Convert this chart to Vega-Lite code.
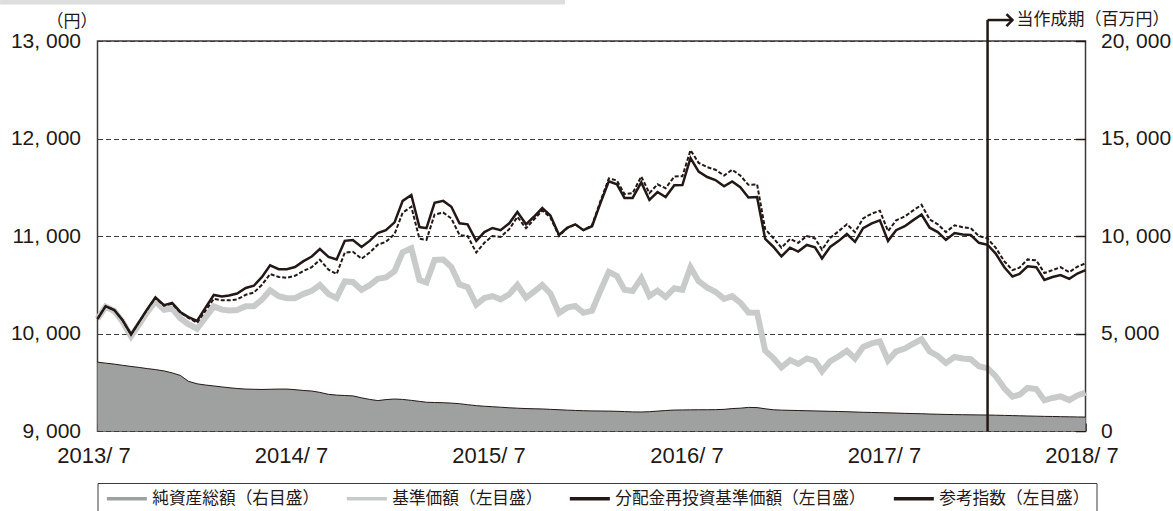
{
  "$schema": "https://vega.github.io/schema/vega-lite/v6.json",
  "width": 988,
  "height": 390,
  "autosize": {"type": "none"},
  "padding": {"left": 97.5, "top": 41, "right": 87.5, "bottom": 80},
  "background": "white",
  "config": {
    "view": {"stroke": "#3e3a39", "strokeWidth": 1.5},
    "axis": {"labelColor": "#231815", "labelFont": "Liberation Sans", "labelFontSize": 21, "titleColor": "#231815"}
  },
  "data": {"values": [
    {"d":"2013-07-01","reinv":10150,"nav":10150,"bench":10150,"assets":3530},
    {"d":"2013-07-16","reinv":10280,"nav":10275,"bench":10280,"assets":3480},
    {"d":"2013-08-01","reinv":10241,"nav":10231,"bench":10241,"assets":3430},
    {"d":"2013-08-16","reinv":10139,"nav":10124,"bench":10139,"assets":3370},
    {"d":"2013-09-01","reinv":9990,"nav":9970,"bench":9990,"assets":3310},
    {"d":"2013-09-16","reinv":10120,"nav":10095,"bench":10120,"assets":3260},
    {"d":"2013-10-01","reinv":10250,"nav":10219,"bench":10245,"assets":3200},
    {"d":"2013-10-16","reinv":10370,"nav":10331,"bench":10365,"assets":3150},
    {"d":"2013-11-01","reinv":10290,"nav":10242,"bench":10285,"assets":3080},
    {"d":"2013-11-16","reinv":10313,"nav":10256,"bench":10305,"assets":2980},
    {"d":"2013-12-01","reinv":10221,"nav":10157,"bench":10215,"assets":2850},
    {"d":"2013-12-16","reinv":10169,"nav":10096,"bench":10160,"assets":2550},
    {"d":"2014-01-01","reinv":10130,"nav":10049,"bench":10110,"assets":2420},
    {"d":"2014-01-16","reinv":10260,"nav":10160,"bench":10230,"assets":2360},
    {"d":"2014-02-01","reinv":10395,"nav":10278,"bench":10355,"assets":2310},
    {"d":"2014-02-16","reinv":10380,"nav":10245,"bench":10340,"assets":2260},
    {"d":"2014-03-01","reinv":10390,"nav":10237,"bench":10340,"assets":2220},
    {"d":"2014-03-16","reinv":10410,"nav":10240,"bench":10350,"assets":2180},
    {"d":"2014-04-01","reinv":10467,"nav":10279,"bench":10397,"assets":2150},
    {"d":"2014-04-16","reinv":10490,"nav":10280,"bench":10420,"assets":2140},
    {"d":"2014-05-01","reinv":10580,"nav":10347,"bench":10500,"assets":2130},
    {"d":"2014-05-16","reinv":10700,"nav":10443,"bench":10610,"assets":2140},
    {"d":"2014-06-01","reinv":10660,"nav":10383,"bench":10580,"assets":2150},
    {"d":"2014-06-16","reinv":10660,"nav":10362,"bench":10570,"assets":2150},
    {"d":"2014-07-01","reinv":10682,"nav":10362,"bench":10592,"assets":2120},
    {"d":"2014-07-16","reinv":10740,"nav":10404,"bench":10640,"assets":2080},
    {"d":"2014-08-01","reinv":10790,"nav":10437,"bench":10680,"assets":2050},
    {"d":"2014-08-16","reinv":10866,"nav":10497,"bench":10756,"assets":1980},
    {"d":"2014-09-01","reinv":10785,"nav":10404,"bench":10655,"assets":1880},
    {"d":"2014-09-16","reinv":10760,"nav":10365,"bench":10610,"assets":1840},
    {"d":"2014-10-01","reinv":10950,"nav":10534,"bench":10830,"assets":1820},
    {"d":"2014-10-16","reinv":10959,"nav":10529,"bench":10839,"assets":1800},
    {"d":"2014-11-01","reinv":10887,"nav":10448,"bench":10767,"assets":1700},
    {"d":"2014-11-16","reinv":10950,"nav":10496,"bench":10830,"assets":1620},
    {"d":"2014-12-01","reinv":11031,"nav":10560,"bench":10911,"assets":1560},
    {"d":"2014-12-16","reinv":11060,"nav":10576,"bench":10940,"assets":1610},
    {"d":"2015-01-01","reinv":11140,"nav":10639,"bench":11020,"assets":1640},
    {"d":"2015-01-16","reinv":11360,"nav":10834,"bench":11240,"assets":1620},
    {"d":"2015-02-01","reinv":11420,"nav":10875,"bench":11300,"assets":1570},
    {"d":"2015-02-16","reinv":11092,"nav":10549,"bench":10972,"assets":1520},
    {"d":"2015-03-01","reinv":11080,"nav":10523,"bench":10960,"assets":1475},
    {"d":"2015-03-16","reinv":11340,"nav":10754,"bench":11220,"assets":1460},
    {"d":"2015-04-01","reinv":11360,"nav":10758,"bench":11240,"assets":1450},
    {"d":"2015-04-16","reinv":11300,"nav":10682,"bench":11180,"assets":1430},
    {"d":"2015-05-01","reinv":11130,"nav":10503,"bench":11010,"assets":1400},
    {"d":"2015-05-16","reinv":11120,"nav":10475,"bench":11000,"assets":1350},
    {"d":"2015-06-01","reinv":10950,"nav":10296,"bench":10830,"assets":1300},
    {"d":"2015-06-16","reinv":11040,"nav":10363,"bench":10930,"assets":1270},
    {"d":"2015-07-01","reinv":11082,"nav":10384,"bench":11000,"assets":1245},
    {"d":"2015-07-16","reinv":11060,"nav":10350,"bench":10990,"assets":1220},
    {"d":"2015-08-01","reinv":11130,"nav":10403,"bench":11070,"assets":1190},
    {"d":"2015-08-16","reinv":11246,"nav":10498,"bench":11196,"assets":1170},
    {"d":"2015-09-01","reinv":11120,"nav":10367,"bench":11080,"assets":1150},
    {"d":"2015-09-16","reinv":11200,"nav":10429,"bench":11170,"assets":1140},
    {"d":"2015-10-01","reinv":11287,"nav":10497,"bench":11262,"assets":1130},
    {"d":"2015-10-16","reinv":11210,"nav":10411,"bench":11190,"assets":1110},
    {"d":"2015-11-01","reinv":11010,"nav":10210,"bench":11000,"assets":1090},
    {"d":"2015-11-16","reinv":11085,"nav":10265,"bench":11080,"assets":1070},
    {"d":"2015-12-01","reinv":11120,"nav":10283,"bench":11120,"assets":1055},
    {"d":"2015-12-16","reinv":11060,"nav":10212,"bench":11060,"assets":1040},
    {"d":"2016-01-01","reinv":11100,"nav":10234,"bench":11110,"assets":1030},
    {"d":"2016-01-16","reinv":11330,"nav":10433,"bench":11350,"assets":1025},
    {"d":"2016-02-01","reinv":11560,"nav":10632,"bench":11590,"assets":1020},
    {"d":"2016-02-16","reinv":11530,"nav":10590,"bench":11570,"assets":1010},
    {"d":"2016-03-01","reinv":11390,"nav":10448,"bench":11430,"assets":995},
    {"d":"2016-03-16","reinv":11390,"nav":10435,"bench":11440,"assets":980},
    {"d":"2016-04-01","reinv":11550,"nav":10568,"bench":11610,"assets":975},
    {"d":"2016-04-16","reinv":11370,"nav":10384,"bench":11440,"assets":990},
    {"d":"2016-05-01","reinv":11451,"nav":10440,"bench":11530,"assets":1020},
    {"d":"2016-05-16","reinv":11400,"nav":10374,"bench":11490,"assets":1050},
    {"d":"2016-06-01","reinv":11520,"nav":10464,"bench":11610,"assets":1075},
    {"d":"2016-06-16","reinv":11523,"nav":10448,"bench":11613,"assets":1080},
    {"d":"2016-07-01","reinv":11800,"nav":10679,"bench":11880,"assets":1085},
    {"d":"2016-07-16","reinv":11660,"nav":10537,"bench":11750,"assets":1090},
    {"d":"2016-08-01","reinv":11605,"nav":10471,"bench":11705,"assets":1090},
    {"d":"2016-08-16","reinv":11574,"nav":10428,"bench":11680,"assets":1095},
    {"d":"2016-09-01","reinv":11510,"nav":10356,"bench":11620,"assets":1110},
    {"d":"2016-09-16","reinv":11560,"nav":10384,"bench":11680,"assets":1150},
    {"d":"2016-10-01","reinv":11500,"nav":10316,"bench":11620,"assets":1170},
    {"d":"2016-10-16","reinv":11395,"nav":10216,"bench":11525,"assets":1210},
    {"d":"2016-11-01","reinv":11400,"nav":10214,"bench":11530,"assets":1200},
    {"d":"2016-11-16","reinv":10970,"nav":9824,"bench":11070,"assets":1140},
    {"d":"2016-12-01","reinv":10890,"nav":9747,"bench":10980,"assets":1090},
    {"d":"2016-12-16","reinv":10790,"nav":9652,"bench":10880,"assets":1070},
    {"d":"2017-01-01","reinv":10880,"nav":9727,"bench":10970,"assets":1060},
    {"d":"2017-01-16","reinv":10840,"nav":9688,"bench":10930,"assets":1050},
    {"d":"2017-02-01","reinv":10908,"nav":9744,"bench":11000,"assets":1040},
    {"d":"2017-02-16","reinv":10885,"nav":9720,"bench":10975,"assets":1030},
    {"d":"2017-03-01","reinv":10770,"nav":9614,"bench":10860,"assets":1020},
    {"d":"2017-03-16","reinv":10887,"nav":9715,"bench":10980,"assets":1010},
    {"d":"2017-04-01","reinv":10950,"nav":9767,"bench":11050,"assets":1000},
    {"d":"2017-04-16","reinv":11020,"nav":9822,"bench":11120,"assets":990},
    {"d":"2017-05-01","reinv":10940,"nav":9744,"bench":11040,"assets":975},
    {"d":"2017-05-16","reinv":11080,"nav":9861,"bench":11180,"assets":960},
    {"d":"2017-06-01","reinv":11130,"nav":9898,"bench":11230,"assets":950},
    {"d":"2017-06-16","reinv":11160,"nav":9918,"bench":11260,"assets":940},
    {"d":"2017-07-01","reinv":10950,"nav":9724,"bench":11050,"assets":930},
    {"d":"2017-07-16","reinv":11060,"nav":9816,"bench":11160,"assets":920},
    {"d":"2017-08-01","reinv":11100,"nav":9846,"bench":11200,"assets":905},
    {"d":"2017-08-16","reinv":11160,"nav":9893,"bench":11260,"assets":895},
    {"d":"2017-09-01","reinv":11220,"nav":9941,"bench":11320,"assets":885},
    {"d":"2017-09-16","reinv":11085,"nav":9816,"bench":11170,"assets":870},
    {"d":"2017-10-01","reinv":11040,"nav":9770,"bench":11120,"assets":860},
    {"d":"2017-10-16","reinv":10960,"nav":9697,"bench":11040,"assets":850},
    {"d":"2017-11-01","reinv":11031,"nav":9759,"bench":11110,"assets":840},
    {"d":"2017-11-16","reinv":11015,"nav":9743,"bench":11090,"assets":835},
    {"d":"2017-12-01","reinv":11010,"nav":9736,"bench":11080,"assets":830},
    {"d":"2017-12-16","reinv":10930,"nav":9664,"bench":11000,"assets":825},
    {"d":"2018-01-01","reinv":10910,"nav":9644,"bench":10975,"assets":820},
    {"d":"2018-01-16","reinv":10820,"nav":9563,"bench":10880,"assets":810},
    {"d":"2018-02-01","reinv":10680,"nav":9438,"bench":10740,"assets":800},
    {"d":"2018-02-16","reinv":10585,"nav":9352,"bench":10650,"assets":790},
    {"d":"2018-03-01","reinv":10610,"nav":9372,"bench":10675,"assets":780},
    {"d":"2018-03-16","reinv":10690,"nav":9441,"bench":10760,"assets":770},
    {"d":"2018-04-01","reinv":10680,"nav":9430,"bench":10750,"assets":760},
    {"d":"2018-04-16","reinv":10550,"nav":9314,"bench":10620,"assets":750},
    {"d":"2018-05-01","reinv":10580,"nav":9339,"bench":10650,"assets":745},
    {"d":"2018-05-16","reinv":10600,"nav":9355,"bench":10680,"assets":735},
    {"d":"2018-06-01","reinv":10560,"nav":9317,"bench":10630,"assets":728},
    {"d":"2018-06-16","reinv":10615,"nav":9365,"bench":10685,"assets":720},
    {"d":"2018-07-01","reinv":10650,"nav":9393,"bench":10720,"assets":715}
  ]},
  "layer": [
    {
      "layer": [
        {
          "mark": {"type": "area", "opacity": 1},
          "encoding": {
            "x": {"field": "d", "type": "temporal",
              "scale": {"type": "utc", "nice": false, "domain": [{"year": 2013, "month": 7, "date": 1, "utc": true}, {"year": 2018, "month": 7, "date": 1, "utc": true}]},
              "axis": {"title": null, "values": [{"year": 2013, "month": 7, "date": 1, "utc": true}, {"year": 2014, "month": 7, "date": 1, "utc": true}, {"year": 2015, "month": 7, "date": 1, "utc": true}, {"year": 2016, "month": 7, "date": 1, "utc": true}, {"year": 2017, "month": 7, "date": 1, "utc": true}, {"year": 2018, "month": 7, "date": 1, "utc": true}],
                "format": "%Y/ %-m", "labelFontSize": 22, "labelOffset": -4, "grid": false, "domain": false, "ticks": true, "tickSize": -8, "tickWidth": 1.5, "tickColor": "#231815", "labelPadding": 22, "labelFlush": false, "labelOverlap": false}},
            "y": {"field": "assets", "type": "quantitative",
              "scale": {"domain": [0, 20000], "nice": false, "zero": true},
              "axis": {"orient": "right", "title": null, "values": [0, 5000, 10000, 15000, 20000], "labelExpr": "replace(format(datum.value, ','), ',', ', ')", "grid": false, "domain": false, "ticks": true, "tickSize": -10, "tickWidth": 1.5, "tickColor": "#231815", "labelPadding": 25}},
            "color": {"datum": "assets", "type": "nominal",
              "scale": {"domain": ["assets", "nav", "reinv", "bench"], "range": ["#9fa0a0", "#c9caca", "#231815", "#231815"]},
              "legend": {
                "orient": "none", "legendX": 0, "legendY": 442, "direction": "horizontal", "title": null,
                "strokeColor": "#3e3a39", "padding": 7, "columnPadding": 20, "labelOffset": 17, "symbolOffset": 14, "labelLimit": 400,
                "symbolType": "M-4,0H4", "symbolSize": 100, "symbolStrokeWidth": 3.5,
                "labelFont": "Noto Sans CJK JP", "labelFontSize": 16.7, "labelColor": "#231815",
                "labelExpr": "{'assets': '純資産総額（右目盛）', 'nav': '基準価額（左目盛）', 'reinv': '分配金再投資基準価額（左目盛）', 'bench': '参考指数（左目盛）'}[datum.value]"
              }}
          }
        },
        {
          "mark": {"type": "line", "color": "#231815", "strokeWidth": 1},
          "encoding": {
            "x": {"field": "d", "type": "temporal"},
            "y": {"field": "assets", "type": "quantitative"}
          }
        }
      ]
    },
    {
      "layer": [
        {
          "mark": {"type": "line", "strokeWidth": 6},
          "encoding": {
            "x": {"field": "d", "type": "temporal"},
            "y": {"field": "nav", "type": "quantitative",
              "scale": {"domain": [9000, 13000], "nice": false, "zero": false},
              "axis": {"orient": "left", "title": "（円）", "titleAngle": 0, "titleX": -26, "titleY": -20, "titleAlign": "center", "titleBaseline": "middle", "titleFont": "Noto Sans CJK JP", "titleFontSize": 17, "titleFontWeight": "normal",
                "values": [9000, 10000, 11000, 12000, 13000], "labelExpr": "replace(format(datum.value, ','), ',', ', ')",
                "grid": true, "gridColor": "#3e3a39", "gridDash": [5, 3], "gridWidth": 1, "domain": false, "ticks": false, "labelPadding": 17}},
            "color": {"datum": "nav", "type": "nominal"}
          }
        },
        {
          "mark": {"type": "line", "strokeWidth": 2.5},
          "encoding": {
            "x": {"field": "d", "type": "temporal"},
            "y": {"field": "reinv", "type": "quantitative"},
            "color": {"datum": "reinv", "type": "nominal"}
          }
        },
        {
          "mark": {"type": "line", "strokeWidth": 2, "strokeDash": [4, 2]},
          "encoding": {
            "x": {"field": "d", "type": "temporal"},
            "y": {"field": "bench", "type": "quantitative"},
            "color": {"datum": "bench", "type": "nominal"}
          }
        },
        {
          "data": {"values": [{"note": "当作成期（百万円）"}]},
          "layer": [
            {
              "mark": {"type": "rect", "color": "#dcdddd", "clip": false},
              "encoding": {
                "x": {"datum": {"year": 2013, "month": 1, "date": 2, "utc": true}, "type": "temporal"},
                "x2": {"datum": {"year": 2015, "month": 11, "date": 12, "utc": true}},
                "y": {"datum": 13425, "type": "quantitative"},
                "y2": {"datum": 13375}
              }
            },
            {
              "mark": {"type": "rule", "color": "#231815", "strokeWidth": 2.5, "clip": false},
              "encoding": {
                "x": {"datum": {"year": 2018, "month": 1, "date": 1, "utc": true}, "type": "temporal"},
                "y": {"datum": 9000, "type": "quantitative"},
                "y2": {"datum": 13215}
              }
            },
            {
              "mark": {"type": "rule", "color": "#231815", "strokeWidth": 2.5, "clip": false},
              "encoding": {
                "x": {"datum": {"year": 2018, "month": 1, "date": 1, "utc": true}, "type": "temporal"},
                "x2": {"datum": {"year": 2018, "month": 2, "date": 16, "utc": true}},
                "y": {"datum": 13215, "type": "quantitative"}
              }
            },
            {
              "mark": {"type": "point", "shape": "M-1,-1L0,0L-1,1", "filled": false, "size": 144, "color": "#231815", "strokeWidth": 2.5, "opacity": 1, "clip": false},
              "encoding": {
                "x": {"datum": {"year": 2018, "month": 2, "date": 16, "utc": true}, "type": "temporal"},
                "y": {"datum": 13215, "type": "quantitative"}
              }
            },
            {
              "mark": {"type": "text", "align": "left", "baseline": "middle", "dx": 4, "font": "Noto Sans CJK JP", "fontSize": 17, "color": "#231815", "clip": false},
              "encoding": {
                "x": {"datum": {"year": 2018, "month": 2, "date": 16, "utc": true}, "type": "temporal"},
                "y": {"datum": 13215, "type": "quantitative"},
                "text": {"field": "note"}
              }
            }
          ]
        }
      ]
    }
  ],
  "resolve": {"scale": {"y": "independent"}}
}
